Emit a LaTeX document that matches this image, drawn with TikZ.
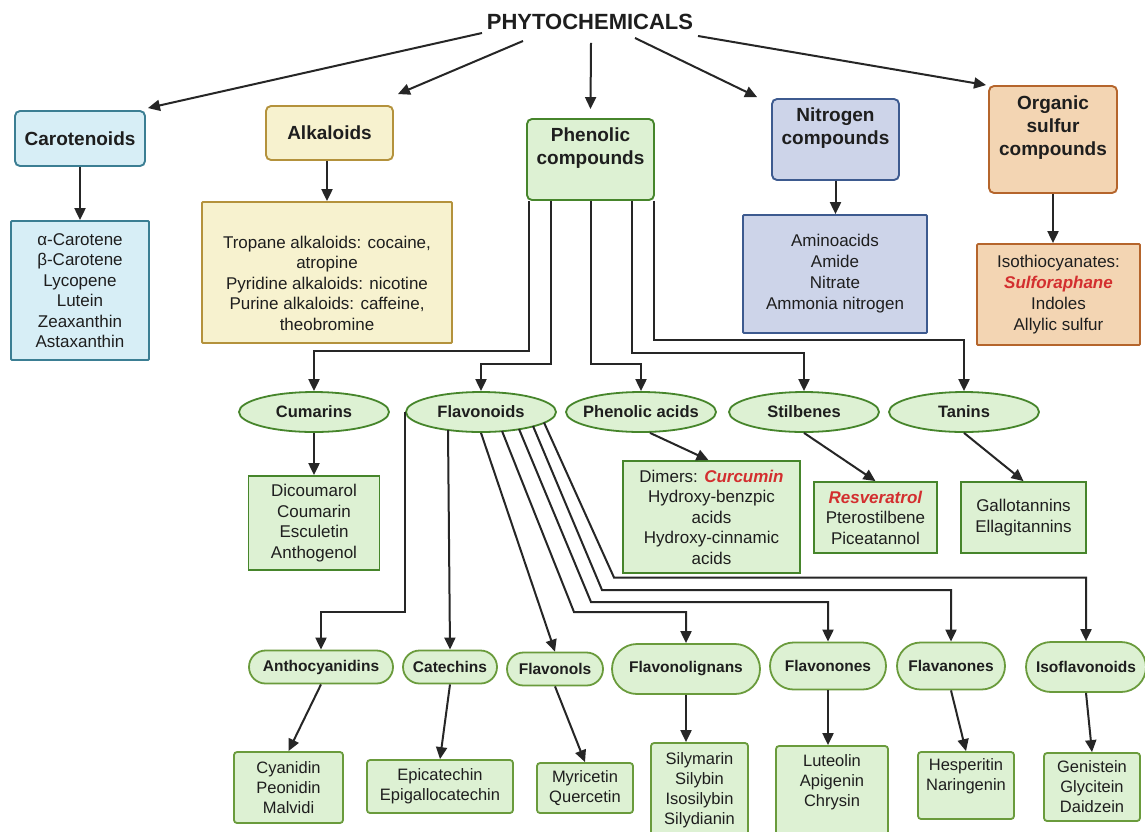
\documentclass[tikz,border=0pt]{standalone}
\usepackage{fontspec}
\setmainfont{Liberation Sans}
\usetikzlibrary{arrows.meta,shapes.geometric,calc}
\definecolor{txt}{HTML}{1E1E1E}
\definecolor{lineC}{HTML}{262626}
\definecolor{carF}{HTML}{D7EEF6}\definecolor{carB}{HTML}{3B7E93}
\definecolor{alkF}{HTML}{F7F2CF}\definecolor{alkB}{HTML}{B4923C}
\definecolor{grF}{HTML}{DDF1D3}\definecolor{grB}{HTML}{46852B}
\definecolor{stB}{HTML}{6A9B3C}
\definecolor{nitF}{HTML}{CDD4E9}\definecolor{nitB}{HTML}{3D5A8F}
\definecolor{sulF}{HTML}{F3D5B3}\definecolor{sulB}{HTML}{B5652C}
\definecolor{redT}{HTML}{D32F2F}
\newcommand\redit[1]{\textcolor{redT}{\textbf{\textit{#1}}}}
\begin{document}
\begin{tikzpicture}[x=1pt,y=-1pt,
  titlestyle/.style={inner sep=0pt, font=\bfseries\fontsize{22}{26}\selectfont, text=txt},
  hdr/.style={draw, line width=1.9pt, rounded corners=5pt, align=center, inner sep=0pt,
    font=\bfseries\fontsize{19}{23}\selectfont, text=txt},
  hdrtxt/.style={align=center, inner sep=0pt, font=\bfseries\fontsize{19}{23}\selectfont, text=txt},
  lst/.style={draw, line width=1.8pt, rounded corners=1pt, align=center, inner sep=0pt,
    font=\fontsize{17}{20.5}\selectfont, text=txt},
  lsttxt/.style={align=center, inner sep=0pt, font=\fontsize{17}{20.5}\selectfont, text=txt},
  grlst/.style={lst, draw=grB, fill=grF, rounded corners=0pt},
  ell/.style={ellipse, draw=grB, fill=grF, line width=1.8pt, minimum width=150pt, minimum height=40pt,
    inner xsep=-6pt, inner ysep=0pt, font=\bfseries\fontsize{16.5}{19}\selectfont, text=txt},
  stad/.style={draw=stB, fill=grF, line width=1.8pt, inner sep=0pt,
    font=\bfseries\fontsize{15.5}{18}\selectfont, text=txt},
  blst/.style={draw=stB, fill=grF, line width=1.8pt, rounded corners=3pt, align=center, inner sep=0pt,
    font=\fontsize{16.5}{20}\selectfont, text=txt},
  blsttxt/.style={align=center, inner sep=0pt, font=\fontsize{16.5}{20}\selectfont, text=txt},
  arr/.style={draw=lineC, line width=2pt, -{Triangle[length=12pt,width=11pt]}}
]
\useasboundingbox (0,0) rectangle (1145,831);
\fill[white] (0,0) rectangle (1145,831);

% title
\node[titlestyle] (title) at (590,22) {PHYTOCHEMICALS};

% headers
\node[hdr, draw=carB, fill=carF, minimum width=130pt, minimum height=55pt] (carot) at (80,138.5) {Carotenoids};
\node[hdr, draw=alkB, fill=alkF, minimum width=127pt, minimum height=54pt] (alk) at (329.5,133) {Alkaloids};
\node[hdr, draw=grB, fill=grF, minimum width=127pt, minimum height=81pt] (phen) at (590.5,159.5) {};
\node[hdrtxt] (phenT) at (590.5,148) {Phenolic\\compounds};
\node[hdr, draw=nitB, fill=nitF, minimum width=127pt, minimum height=81pt] (nitro) at (835.5,139.5) {};
\node[hdrtxt] (nitroT) at (835.5,128.5) {Nitrogen\\compounds};
\node[hdr, draw=sulB, fill=sulF, minimum width=128pt, minimum height=107pt] (sulf) at (1053,139.5) {};
\node[hdrtxt] (sulfT) at (1053,128) {Organic\\sulfur\\compounds};

% lists row 2
\node[lst, draw=carB, fill=carF, minimum width=138pt, minimum height=139pt] (carlist) at (80,290.5)
  {α-Carotene\\β-Carotene\\Lycopene\\Lutein\\Zeaxanthin\\Astaxanthin};
\node[lst, draw=alkB, fill=alkF, minimum width=250pt, minimum height=141pt] (alklist) at (327,272.5) {};
\node[lsttxt] (alklistT) at (327,283)
  {Tropane alkaloids: cocaine,\\atropine\\Pyridine alkaloids: nicotine\\Purine alkaloids: caffeine,\\theobromine};
\node[lst, draw=nitB, fill=nitF, minimum width=184pt, minimum height=118pt,
  font=\fontsize{17}{21}\selectfont] (nitlist) at (835,274)
  {Aminoacids\\Amide\\Nitrate\\Ammonia nitrogen};
\node[lst, draw=sulB, fill=sulF, minimum width=163pt, minimum height=101pt,
  font=\fontsize{17}{21}\selectfont] (sulflist) at (1058.5,294.5)
  {Isothiocyanates:\\\redit{Sulforaphane}\\Indoles\\Allylic sulfur};

% phenolic subgroups
\node[ell] (cum) at (314,412) {Cumarins};
\node[ell] (flav) at (481,412) {Flavonoids};
\node[ell] (pacid) at (641,412) {Phenolic acids};
\node[ell] (stil) at (804,412) {Stilbenes};
\node[ell] (tan) at (964,412) {Tanins};

\node[grlst, minimum width=131pt, minimum height=94pt] (cumlist) at (314,523)
  {Dicoumarol\\Coumarin\\Esculetin\\Anthogenol};
\node[grlst, minimum width=177pt, minimum height=112pt] (palist) at (711.5,517)
  {Dimers: \redit{Curcumin}\\Hydroxy-benzpic\\acids\\Hydroxy-cinnamic\\acids};
\node[grlst, minimum width=123pt, minimum height=71pt] (stillist) at (875.5,517.5)
  {\redit{Resveratrol}\\Pterostilbene\\Piceatannol};
\node[grlst, minimum width=125pt, minimum height=71pt] (tanlist) at (1023.5,517.5)
  {Gallotannins\\Ellagitannins};

% flavonoid subgroups
\node[stad, minimum width=144pt, minimum height=33pt, rounded corners=16.5pt] (antho) at (321,667) {Anthocyanidins};
\node[stad, minimum width=94pt, minimum height=33pt, rounded corners=16.5pt] (cate) at (450,667) {Catechins};
\node[stad, minimum width=96pt, minimum height=33pt, rounded corners=16.5pt] (flavol) at (555,669) {Flavonols};
\node[stad, minimum width=148pt, minimum height=50pt, rounded corners=25pt] (flig) at (686,669) {Flavonolignans};
\node[stad, minimum width=116pt, minimum height=47pt, rounded corners=23.5pt] (flon) at (828,666) {Flavonones};
\node[stad, minimum width=108pt, minimum height=47pt, rounded corners=23.5pt] (flan) at (951,666) {Flavanones};
\node[stad, minimum width=120pt, minimum height=50pt, rounded corners=25pt] (iso) at (1086,667) {Isoflavonoids};

% bottom lists
\node[blst, minimum width=109pt, minimum height=71pt] (cyan) at (288.5,787.5) {Cyanidin\\Peonidin\\Malvidi};
\node[blst, minimum width=146pt, minimum height=53pt] (epi) at (440,786.5) {Epicatechin\\Epigallocatechin};
\node[blst, minimum width=96pt, minimum height=50pt] (myr) at (585,788) {Myricetin\\Quercetin};
\node[blst, minimum width=97pt, minimum height=97pt] (sily) at (699.5,791.5) {};
\node[blsttxt] (silyT) at (699.5,790) {Silymarin\\Silybin\\Isosilybin\\Silydianin};
\node[blst, minimum width=112pt, minimum height=94pt] (lut) at (832,793) {};
\node[blsttxt] (lutT) at (832,782) {Luteolin\\Apigenin\\Chrysin};
\node[blst, minimum width=96pt, minimum height=67pt] (hesp) at (966,785.5) {};
\node[blsttxt] (hespT) at (966,776) {Hesperitin\\Naringenin};
\node[blst, minimum width=96pt, minimum height=68pt] (gen) at (1092,787) {Genistein\\Glycitein\\Daidzein};

% title arrows
\draw[arr] ($(title.south)+(-108,3)$) -- ($(carot.north east)+(2,-2)$);
\draw[arr] ($(title.south)+(-67,11)$) -- ($(alk.north east)+(4,-11)$);
\draw[arr] ($(title.south)+(1,13)$) -- ($(phen.north)+(0,-9)$);
\draw[arr] ($(title.south)+(45,8)$) -- ($(nitro.north west)+(-14,-1)$);
\draw[arr] ($(title.south)+(108,6)$) -- ($(sulf.north west)+(-2,0)$);

% header to list
\draw[arr] (carot.south) -- (carlist.north);
\draw[arr] (alklist.north |- alk.south) -- (alklist.north);
\draw[arr] (nitro.south) -- (nitro.south |- nitlist.north);
\draw[arr] (sulf.south) -- (sulf.south |- sulflist.north);

% phenolic routing
\draw[arr] ($(phen.south)+(-62,0)$) -- ++(0,150) -| (cum.north);
\draw[arr] ($(phen.south)+(-40,0)$) -- ++(0,163) -| (flav.north);
\draw[arr] (phen.south) -- ++(0,163) -| (pacid.north);
\draw[arr] ($(phen.south)+(41,0)$) -- ++(0,152) -| (stil.north);
\draw[arr] ($(phen.south)+(63,0)$) -- ++(0,139) -| (tan.north);

% subgroup to lists
\draw[arr] (cum.south) -- (cumlist.north);
\draw[arr] ($(pacid.south)+(9,0)$) -- ($(palist.north)+(-3,0)$);
\draw[arr] (stil.south) -- (stillist.north);
\draw[arr] (tan.south) -- (tanlist.north);

% flavonoid routing
\draw[arr] (flav.west) -- ++(0,200) -| (antho.north);
\draw[arr] ($(flav.center)+(-33,18)$) -- (cate.north);
\draw[arr] (flav.south) -- (flavol.north);
\draw[arr] ($(flav.center)+(21,19)$) -- ++(72,181) -| (flig.north);
\draw[arr] ($(flav.center)+(38,17)$) -- ++(72,173) -| (flon.north);
\draw[arr] ($(flav.center)+(52,14)$) -- ++(69,164) -| (flan.north);
\draw[arr] ($(flav.center)+(63,10.5)$) -- ++(70,155) -| (iso.north);

% flavonoid subgroups to lists
\draw[arr] (antho.south) -- (cyan.north);
\draw[arr] (cate.south) -- (epi.north);
\draw[arr] (flavol.south) -- (myr.north);
\draw[arr] (flig.south) -- (flig.south |- sily.north);
\draw[arr] (flon.south) -- (flon.south |- lut.north);
\draw[arr] (flan.south) -- (hesp.north);
\draw[arr] (iso.south) -- (gen.north);
\end{tikzpicture}
\end{document}
